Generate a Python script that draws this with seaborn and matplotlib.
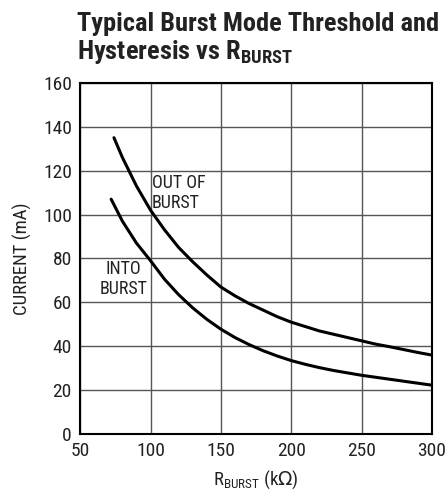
import pandas as pd
import matplotlib
matplotlib.use("Agg")
import matplotlib.pyplot as plt
import seaborn as sns

# values
r_out = [74, 80, 90, 100, 110, 120, 130, 140, 150, 160, 170, 180, 190, 200,
         210, 220, 230, 240, 250, 260, 270, 280, 290, 300]
i_out = [135, 126, 113, 102, 93, 85, 78.5, 72.5, 67, 63, 59.5, 56.5, 53.5, 51,
         49, 47, 45.5, 44, 42.5, 41, 39.8, 38.5, 37.2, 36]
r_into = [72, 80, 90, 100, 110, 120, 130, 140, 150, 160, 170, 180, 190, 200,
          210, 220, 230, 240, 250, 260, 270, 280, 290, 300]
i_into = [107, 97, 87, 79, 70.5, 63.5, 57.5, 52.3, 47.8, 44, 40.8, 38, 35.6, 33.5,
          31.8, 30.3, 29, 27.9, 26.8, 25.9, 25, 24.1, 23.2, 22.3]

x_ticks = [50, 100, 150, 200, 250, 300]
y_ticks = [0, 20, 40, 60, 80, 100, 120, 140, 160]

df = pd.concat([
    pd.DataFrame({"r": r_out, "i": i_out, "curve": "out"}),
    pd.DataFrame({"r": r_into, "i": i_into, "curve": "into"}),
])

sns.set_style("whitegrid")
plt.rcParams["font.family"] = ["Roboto Condensed", "DejaVu Sans"]

fig = plt.figure(figsize=(4.48, 4.9), dpi=100)
ax = fig.add_axes([0.179, 0.114, 0.785, 0.717])

sns.lineplot(data=df, x="r", y="i", units="curve", estimator=None,
             color="black", linewidth=2.2, ax=ax, sort=False)

ax.set_xlim(50, 300)
ax.set_ylim(0, 160)
ax.set_xticks(x_ticks)
ax.set_yticks(y_ticks)
ax.tick_params(axis="both", length=0, labelsize=14, colors="#222222", pad=6)
ax.grid(True, color="#555555", linewidth=1.0)
for s in ax.spines.values():
    s.set_color("black")
    s.set_linewidth(1.5)

ax.set_xlabel(r"R$_{\mathdefault{BURST}}$ (k$\Omega$)", fontsize=13.5, color="#222222", labelpad=6)
ax.set_ylabel("CURRENT (mA)", fontsize=13.5, color="#222222", labelpad=8)

ax.text(100.7, 110, "OUT OF\nBURST", fontsize=13, ha="left", va="center",
        linespacing=1.15, color="#222222")
ax.text(98, 70.6, "INTO\nBURST", fontsize=13, ha="right", va="center",
        linespacing=1.15, color="#222222", multialignment="center")

fig.text(0.172, 0.937, "Typical Burst Mode Threshold and", fontsize=19,
         fontweight="bold", color="#222222", ha="left", va="baseline")
fig.text(0.172, 0.880, r"Hysteresis vs R$_{\mathdefault{BURST}}$", fontsize=19,
         fontweight="bold", color="#222222", ha="left", va="baseline")

fig.savefig("out.png", dpi=100)
plt.close(fig)
